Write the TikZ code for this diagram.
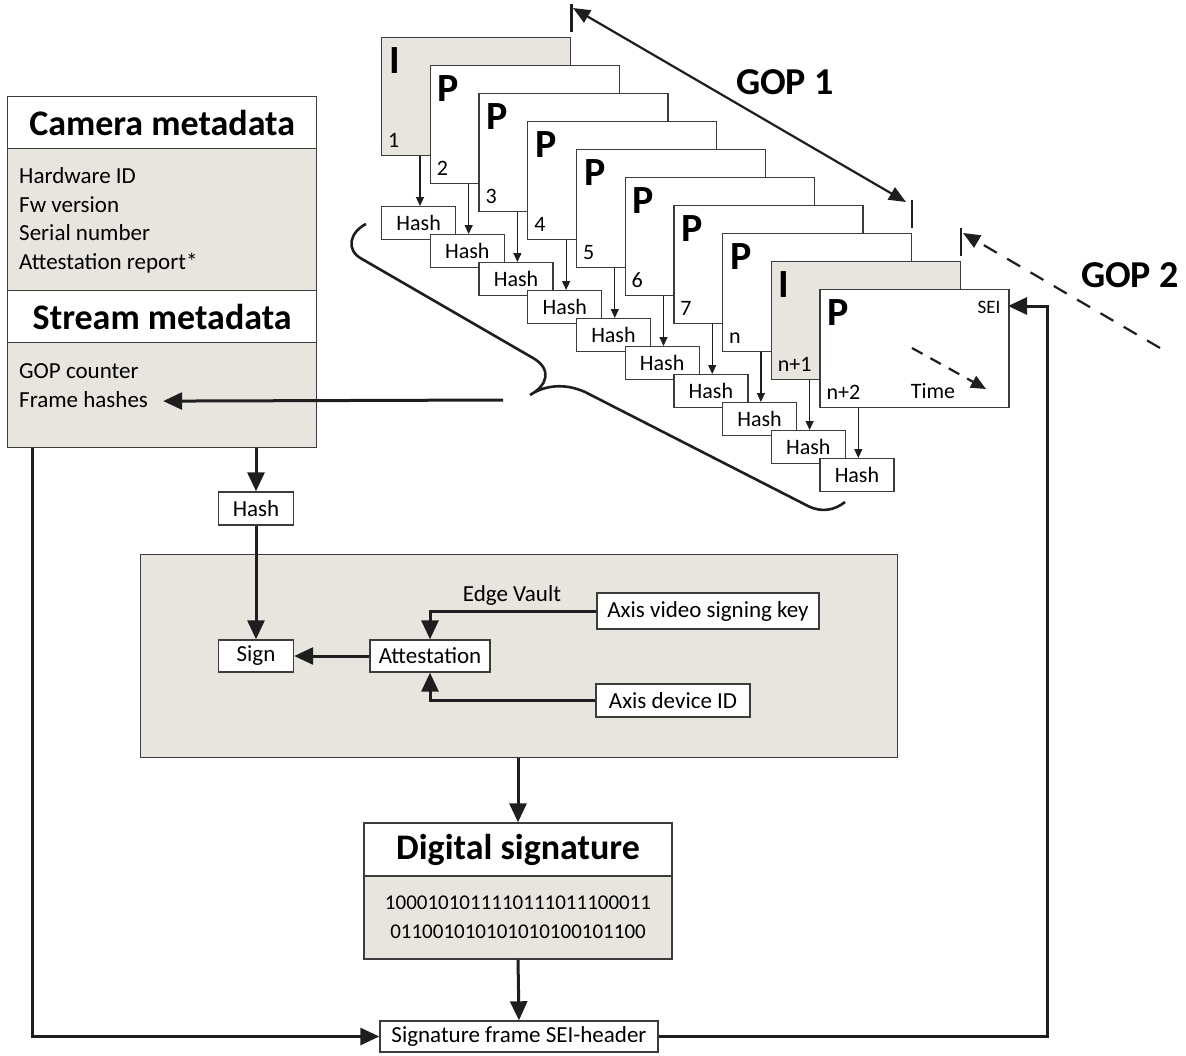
\documentclass[tikz,border=0pt]{standalone}
\usepackage{fontspec}
\setmainfont{Carlito}
\usepackage{tikz}
\usetikzlibrary{arrows.meta}

\definecolor{boxfill}{RGB}{232,228,222}
\definecolor{boxline}{RGB}{60,60,60}
\definecolor{arrowline}{RGB}{30,30,30}

\begin{document}
\begin{tikzpicture}
      [x=1pt,y=-1pt,%%%%%%%%%%%%%%%%%%%%%%%%%%%%%%
      framebox/.style={rectangle,draw=boxline,line width=1.3pt,fill=white,anchor=north west,inner sep=0pt,minimum width=189pt,minimum height=118pt},
      iframebox/.style={framebox,fill=boxfill},
      letter/.style={anchor=north west,inner sep=0pt,font=\fontsize{40}{44}\selectfont\bfseries},
      num/.style={anchor=base west,inner sep=0pt,font=\fontsize{22}{26}\selectfont},
      hashbox/.style={rectangle,draw=boxline,line width=1.3pt,fill=white,anchor=north west,inner sep=0pt,minimum width=74pt,minimum height=33pt,font=\fontsize{22}{26}\selectfont},
      hasharrow/.style={draw=arrowline,line width=1.2pt,-{Triangle[length=9pt,width=8pt]}},
      box/.style={rectangle,draw=boxline,line width=1.4pt,fill=white,inner sep=0pt,font=\fontsize{23}{27}\selectfont},
      headbox/.style={box,font=\fontsize{36}{40}\selectfont\bfseries},
      panel/.style={rectangle,draw=boxline,line width=1.4pt,fill=boxfill,inner sep=0pt},
      item/.style={anchor=base west,inner sep=0pt,font=\fontsize{23}{27}\selectfont},
      txt/.style={inner sep=0pt,font=\fontsize{23}{27}\selectfont},
      gop/.style={inner sep=0pt,font=\fontsize{38}{42}\selectfont\bfseries},
      flow/.style={draw=arrowline,line width=3pt,-{Triangle[length=19pt,width=17pt]}},
      tick/.style={draw=arrowline,line width=2.4pt},
      gopline/.style={draw=arrowline,line width=2.2pt},
      ]%%%%%%%%%%%%%%%%%%%%%%%%%%%%%%

      \useasboundingbox (0,0) rectangle (1186,1055);

      % frames of the stream
      \node[iframebox] (f0) at (381+48.7*0,37+28*0){};
      \node[letter] (l0) at (389+48.7*0,47+28*0){I};
      \node[num] (n0) at (388+48.7*0,147+28*0){1};
      \node[framebox] (f1) at (381+48.7*1,37+28*1){};
      \node[letter] (l1) at (389+48.7*1,47+28*1){P};
      \node[num] (n1) at (388+48.7*1,147+28*1){2};
      \node[framebox] (f2) at (381+48.7*2,37+28*2){};
      \node[letter] (l2) at (389+48.7*2,47+28*2){P};
      \node[num] (n2) at (388+48.7*2,147+28*2){3};
      \node[framebox] (f3) at (381+48.7*3,37+28*3){};
      \node[letter] (l3) at (389+48.7*3,47+28*3){P};
      \node[num] (n3) at (388+48.7*3,147+28*3){4};
      \node[framebox] (f4) at (381+48.7*4,37+28*4){};
      \node[letter] (l4) at (389+48.7*4,47+28*4){P};
      \node[num] (n4) at (388+48.7*4,147+28*4){5};
      \node[framebox] (f5) at (381+48.7*5,37+28*5){};
      \node[letter] (l5) at (389+48.7*5,47+28*5){P};
      \node[num] (n5) at (388+48.7*5,147+28*5){6};
      \node[framebox] (f6) at (381+48.7*6,37+28*6){};
      \node[letter] (l6) at (389+48.7*6,47+28*6){P};
      \node[num] (n6) at (388+48.7*6,147+28*6){7};
      \node[framebox] (f7) at (381+48.7*7,37+28*7){};
      \node[letter] (l7) at (389+48.7*7,47+28*7){P};
      \node[num] (n7) at (388+48.7*7,147+28*7){n};
      \node[iframebox] (f8) at (381+48.7*8,37+28*8){};
      \node[letter] (l8) at (389+48.7*8,47+28*8){I};
      \node[num] (n8) at (388+48.7*8,147+28*8){n+1};
      \node[framebox] (f9) at (381+48.7*9,37+28*9){};
      \node[letter] (l9) at (389+48.7*9,47+28*9){P};
      \node[num] (n9) at (388+48.7*9,147+28*9){n+2};
      \node[inner sep=0pt,font=\fontsize{19}{22}\selectfont] (sei) at (989,307){SEI};
      \node[txt,font=\fontsize{22}{26}\selectfont] (time) at (933,391){Time};
      \coordinate (timea) at (912,348);
      \coordinate (timeb) at (986,389);
      \draw[gopline,dash pattern=on 12pt off 9pt,-{Triangle[length=15pt,width=13pt]}] (timea) -- (timeb);

      % frame hashes
      \node[hashbox] (h0) at (381+48.7*0,206+28*0){Hash};
      \node[hashbox] (h1) at (381+48.7*1,206+28*1){Hash};
      \node[hashbox] (h2) at (381+48.7*2,206+28*2){Hash};
      \node[hashbox] (h3) at (381+48.7*3,206+28*3){Hash};
      \node[hashbox] (h4) at (381+48.7*4,206+28*4){Hash};
      \node[hashbox] (h5) at (381+48.7*5,206+28*5){Hash};
      \node[hashbox] (h6) at (381+48.7*6,206+28*6){Hash};
      \node[hashbox] (h7) at (381+48.7*7,206+28*7){Hash};
      \node[hashbox] (h8) at (381+48.7*8,206+28*8){Hash};
      \node[hashbox] (h9) at (381+48.7*9,206+28*9){Hash};
      \draw[hasharrow] ([xshift=39pt]f0.south west) -- ([xshift=39pt]h0.north west);
      \draw[hasharrow] ([xshift=39pt]f1.south west) -- ([xshift=39pt]h1.north west);
      \draw[hasharrow] ([xshift=39pt]f2.south west) -- ([xshift=39pt]h2.north west);
      \draw[hasharrow] ([xshift=39pt]f3.south west) -- ([xshift=39pt]h3.north west);
      \draw[hasharrow] ([xshift=39pt]f4.south west) -- ([xshift=39pt]h4.north west);
      \draw[hasharrow] ([xshift=39pt]f5.south west) -- ([xshift=39pt]h5.north west);
      \draw[hasharrow] ([xshift=39pt]f6.south west) -- ([xshift=39pt]h6.north west);
      \draw[hasharrow] ([xshift=39pt]f7.south west) -- ([xshift=39pt]h7.north west);
      \draw[hasharrow] ([xshift=39pt]f8.south west) -- ([xshift=39pt]h8.north west);
      \draw[hasharrow] ([xshift=39pt]f9.south west) -- ([xshift=39pt]h9.north west);

      % brace round the hashes
      \draw[draw=arrowline,line width=2.6pt] (366,224) .. controls (350,232) and (345,250) .. (362,259)
            -- (533,358) .. controls (552,369) and (548,385) .. (530,395)
            .. controls (545,385) and (565,383) .. (585,392)
            -- (808,506) .. controls (822,513) and (835,510) .. (845,502);
      \coordinate (bracetip) at (503,400);

      % GOP marks
      \draw[tick] ([yshift=5pt]f0.north east) -- ([yshift=33pt]f0.north east);
      \draw[tick] ([yshift=5pt]f7.north east) -- ([yshift=33pt]f7.north east);
      \draw[tick] ([yshift=5pt]f8.north east) -- ([yshift=33pt]f8.north east);
      \coordinate (gop1a) at (573,8);
      \coordinate (gop1b) at (906,202);
      \coordinate (gop2a) at (1160,348);
      \coordinate (gop2b) at (963,233);
      \draw[gopline,{Triangle[length=17pt,width=14pt]}-{Triangle[length=17pt,width=14pt]}] (gop1a) -- (gop1b);
      \draw[gopline,dash pattern=on 15pt off 12pt,-{Triangle[length=17pt,width=14pt]}] (gop2a) -- (gop2b);
      \node[gop] (gop1) at (785,82){GOP 1};
      \node[gop] (gop2) at (1130,275){GOP 2};

      % metadata
      \node[headbox,anchor=north west,minimum width=309pt,minimum height=52pt] (camtitle) at (7,96){Camera metadata};
      \node[panel,anchor=north west,minimum width=309pt,minimum height=142pt] (campanel) at (7,148){};
      \node[headbox,anchor=north west,minimum width=309pt,minimum height=52pt] (streamtitle) at (7,290){Stream metadata};
      \node[panel,anchor=north west,minimum width=309pt,minimum height=105pt] (streampanel) at (7,342){};
      \node[item] (hwid) at (19,183){Hardware ID};
      \node[item] (fw) at (19,212){Fw version};
      \node[item] (serial) at (19,240){Serial number};
      \node[item] (report) at (19,269){Attestation report*};
      \node[item] (gopcount) at (19,378){GOP counter};
      \node[item] (fhash) at (19,407){Frame hashes};
      \draw[flow] (bracetip) -- ([xshift=15pt,yshift=-2pt]fhash.east);

      % signing
      \node[box,minimum width=75pt,minimum height=33pt] (hash) at (256,508.5){Hash};
      \node[panel,anchor=north west,minimum width=757pt,minimum height=203pt] (vault) at (140,554){};
      \node[box,minimum width=75pt,minimum height=32pt] (sign) at (256,656){Sign};
      \node[box,minimum width=120pt,minimum height=32pt] (att) at (430,656){Attestation};
      \node[box,minimum width=222pt,minimum height=36pt] (key) at (708,611){Axis video signing key};
      \node[box,minimum width=154pt,minimum height=33pt] (devid) at (673,700.5){Axis device ID};
      \node[txt] (edge) at (512,595){Edge Vault};
      \draw[flow] (hash |- streampanel.south) -- (hash.north);
      \draw[flow] (hash.south) -- (sign.north);
      \draw[flow] (att.west) -- (sign.east);
      \draw[flow] (key.west) -| (att.north);
      \draw[flow] (devid.west) -| (att.south);

      % signature
      \node[headbox,minimum width=308pt,minimum height=53pt] (dstitle) at (518,849.5){Digital signature};
      \node[panel,minimum width=308pt,minimum height=83pt,align=center,font=\fontsize{21}{29}\selectfont] (dsbits) at (518,917.5){1000101011110111011100011\\011001010101010100101100};
      \node[box,minimum width=278pt,minimum height=31pt] (seihdr) at (519,1036.5){Signature frame SEI-header};
      \coordinate (seiin) at (1008,306);
      \draw[flow] (dstitle |- vault.south) -- (dstitle.north);
      \draw[flow] (dsbits.south) -- (seihdr.north);
      \draw[flow] ([xshift=25pt]streampanel.south west) |- (seihdr.west);
      \draw[flow] (seihdr.east) -| ([xshift=39pt]seiin) -- (seiin);
    \end{tikzpicture}
\end{document}
